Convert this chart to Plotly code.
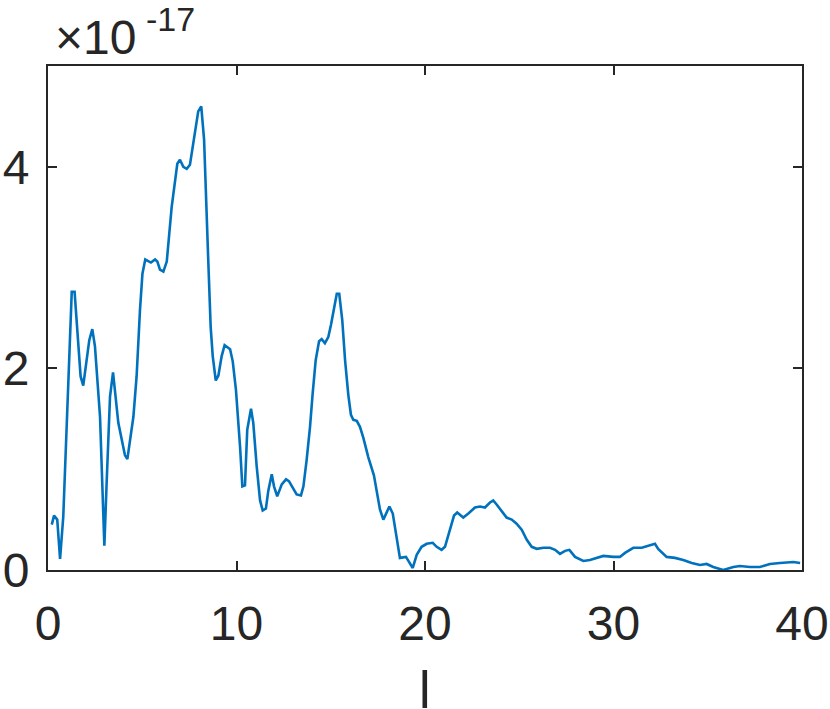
import plotly.graph_objects as go

x_vals = [0.20, 0.32, 0.49, 0.64, 0.81, 1.26, 1.41, 1.73, 1.87, 2.19, 2.35, 2.49, 2.76, 2.99, 3.11, 3.29,
          3.45, 3.73, 4.08, 4.21, 4.53, 4.70, 4.88, 5.01, 5.16, 5.46, 5.68, 5.80, 5.94, 6.12, 6.30, 6.56,
          6.86, 7.00, 7.18, 7.36, 7.53, 7.80, 7.97, 8.13, 8.28, 8.50, 8.63, 8.74, 8.90, 9.04, 9.21, 9.37,
          9.66, 9.80, 9.97, 10.19, 10.31, 10.45, 10.57, 10.77, 10.89, 11.07, 11.25, 11.39, 11.56, 11.69,
          11.87, 11.99, 12.16, 12.40, 12.63, 12.79, 13.01, 13.19, 13.42, 13.55, 13.72, 13.90, 14.04, 14.20,
          14.38, 14.52, 14.69, 14.87, 15.01, 15.14, 15.32, 15.45, 15.61, 15.76, 15.93, 16.07, 16.20, 16.38,
          16.55, 16.73, 16.99, 17.29, 17.44, 17.61, 17.79, 17.97, 18.11, 18.29, 18.50, 18.67, 18.99, 19.17,
          19.35, 19.56, 19.82, 20.09, 20.41, 20.62, 20.88, 21.06, 21.33, 21.54, 21.71, 22.03, 22.30, 22.65,
          22.92, 23.18, 23.45, 23.62, 23.80, 24.07, 24.33, 24.60, 24.86, 25.13, 25.40, 25.66, 25.93, 26.28,
          26.63, 26.90, 27.16, 27.43, 27.66, 27.96, 28.40, 28.75, 29.11, 29.46, 29.99, 30.34, 30.61, 31.05,
          31.50, 31.85, 32.20, 32.37, 32.82, 33.26, 33.70, 34.15, 34.59, 34.94, 35.29, 35.82, 36.36, 36.71,
          37.24, 37.77, 38.30, 38.83, 39.54, 39.90]

y_vals = [0.45, 0.54, 0.50, 0.11, 0.53, 2.76, 2.76, 1.92, 1.83, 2.28, 2.39, 2.22, 1.52, 0.24, 0.86, 1.72,
          1.96, 1.46, 1.14, 1.10, 1.52, 1.92, 2.58, 2.94, 3.08, 3.05, 3.08, 3.06, 2.98, 2.96, 3.06, 3.60,
          4.03, 4.07, 4.00, 3.98, 4.02, 4.33, 4.55, 4.60, 4.27, 3.08, 2.41, 2.12, 1.88, 1.93, 2.12, 2.23,
          2.19, 2.07, 1.79, 1.22, 0.83, 0.84, 1.39, 1.60, 1.46, 1.03, 0.69, 0.59, 0.61, 0.79,
          0.95, 0.83, 0.73, 0.85, 0.90, 0.88, 0.81, 0.75, 0.74, 0.83, 1.09, 1.42, 1.75, 2.08,
          2.27, 2.29, 2.25, 2.31, 2.43, 2.56, 2.74, 2.74, 2.48, 2.08, 1.74, 1.54, 1.49, 1.48,
          1.42, 1.31, 1.12, 0.94, 0.79, 0.60, 0.50, 0.58, 0.63, 0.56, 0.30, 0.12, 0.13, 0.08,
          0.02, 0.15, 0.23, 0.26, 0.27, 0.23, 0.20, 0.23, 0.40, 0.54, 0.57, 0.52, 0.56, 0.62,
          0.63, 0.62, 0.67, 0.69, 0.65, 0.58, 0.52, 0.50, 0.46, 0.40, 0.30, 0.23, 0.21, 0.22,
          0.22, 0.20, 0.16, 0.19, 0.20, 0.13, 0.09, 0.10, 0.12, 0.14, 0.13, 0.13, 0.17, 0.22,
          0.22, 0.24, 0.26, 0.21, 0.13, 0.12, 0.10, 0.07, 0.05, 0.06, 0.03, 0.00, 0.03, 0.04,
          0.03, 0.03, 0.06, 0.07, 0.08, 0.07]

x_ticks = [0, 10, 20, 30, 40]
y_ticks = [0, 2, 4]
y_tick_labels = ["0", "2", "4"]
x_label = "l"
exponent_base = "×10"
exponent_power = "-17"

axis_color = "#262626"
font_family = "Liberation Sans, Arial, Helvetica, sans-serif"

fig = go.Figure()
fig.add_trace(go.Scatter(x=x_vals, y=y_vals, mode="lines",
                         line=dict(color="#0072BD", width=2.6), hoverinfo="skip"))

fig.update_layout(
    width=830, height=709,
    margin=dict(l=48, r=28, t=66, b=139),
    paper_bgcolor="white", plot_bgcolor="white",
    showlegend=False,
    font=dict(family=font_family, size=48, color=axis_color),
    xaxis=dict(range=[0, 40], tickvals=x_ticks, ticks="inside", ticklen=9, tickwidth=2,
               tickcolor=axis_color, showline=True, linecolor=axis_color, linewidth=2,
               mirror="ticks", showgrid=False, zeroline=False, automargin=False,
               tickfont=dict(size=48, color=axis_color), ticklabelstandoff=10),
    yaxis=dict(range=[0, 5], tickvals=y_ticks, ticktext=y_tick_labels, ticks="inside", ticklen=9,
               tickwidth=2, tickcolor=axis_color, showline=True, linecolor=axis_color, linewidth=2,
               mirror="ticks", showgrid=False, zeroline=False, automargin=False,
               tickfont=dict(size=48, color=axis_color), ticklabelstandoff=7),
)

fig.add_annotation(text=x_label, xref="paper", yref="paper", x=0.5, y=-0.238,
                   xanchor="center", yanchor="middle", showarrow=False,
                   font=dict(size=52, color=axis_color, family=font_family))
fig.add_annotation(text=exponent_base, xref="paper", yref="paper", x=0.006, y=1.0575,
                   xanchor="left", yanchor="middle", showarrow=False,
                   font=dict(size=48, color=axis_color, family=font_family))
fig.add_annotation(text=exponent_power, xref="paper", yref="paper", x=0.127, y=1.093,
                   xanchor="left", yanchor="middle", showarrow=False,
                   font=dict(size=34, color=axis_color, family=font_family))

fig.write_html("out.html", config={"displayModeBar": False, "staticPlot": True},
               post_script="document.body.style.margin='0';document.body.style.overflow='hidden';")
